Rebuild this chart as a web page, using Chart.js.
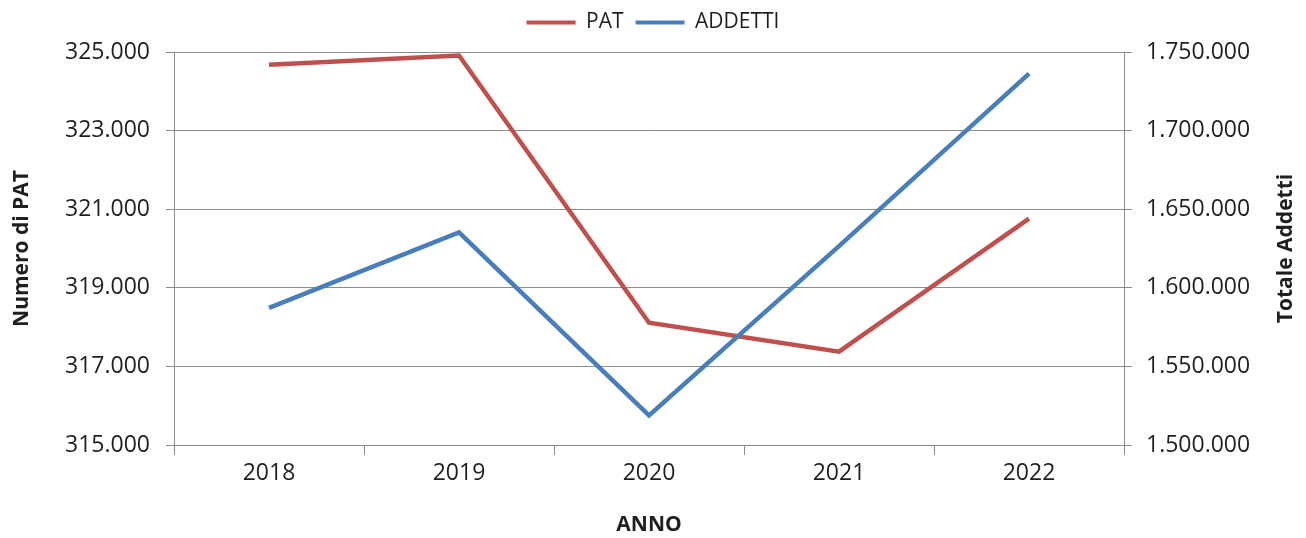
<!DOCTYPE html>
<html>
<head>
<meta charset="utf-8">
<script src="https://cdn.jsdelivr.net/npm/chart.js@4"></script>
<style>
  html, body { margin: 0; padding: 0; background: #fff; }
  #wrap { width: 1306px; height: 538px; }
</style>
</head>
<body>
<div id="wrap"><canvas id="chart" width="1306" height="538"></canvas></div>
<script>
const anni = ['2018', '2019', '2020', '2021', '2022'];
const pat = [324675, 324910, 318110, 317375, 320760];
const addetti = [1587200, 1635300, 1518800, 1626500, 1736200];

const FONT = "'Open Sans', 'Liberation Sans', sans-serif";
const TEXT = '#1f1f1f';
const GRID = '#8c8c8c';

// separatore delle migliaia all'italiana
function puntiMigliaia(v) {
    return String(Math.round(v)).replace(/\B(?=(\d{3})+(?!\d))/g, '.');
}

// titolo dell'asse destro letto dal basso verso l'alto, come nell'originale
const titoloDestro = {
    id: 'titoloDestro',
    afterDraw(chart) {
        const area = chart.chartArea;
        const c = chart.ctx;
        c.save();
        c.translate(chart.width - 20, (area.top + area.bottom) / 2);
        c.rotate(-Math.PI / 2);
        c.font = "bold 21px " + FONT;
        c.fillStyle = TEXT;
        c.textAlign = 'center';
        c.textBaseline = 'middle';
        c.fillText('Totale Addetti', 0, 0);
        c.restore();
    }
};

const ctx = document.getElementById('chart').getContext('2d');
new Chart(ctx, {
    type: 'line',
    data: {
        labels: anni,
        datasets: [{
            label: 'PAT',
            data: pat,
            yAxisID: 'y',
            borderColor: '#C0504D',
            backgroundColor: '#C0504D',
            borderWidth: 4.5,
            pointRadius: 0,
            tension: 0,
            order: 1
        }, {
            label: 'ADDETTI',
            data: addetti,
            yAxisID: 'y1',
            borderColor: '#4A7EBB',
            backgroundColor: '#4A7EBB',
            borderWidth: 4.5,
            pointRadius: 0,
            tension: 0,
            order: 0
        }]
    },
    plugins: [titoloDestro],
    options: {
        responsive: false,
        animation: false,
        layout: { padding: { top: 0, left: 0, right: 0, bottom: 0 } },
        plugins: {
            tooltip: { enabled: false },
            // spazio vuoto tra legenda e grafico
            subtitle: {
                display: true,
                text: '',
                weight: 500,
                font: { size: 1, lineHeight: 1 },
                padding: { top: 8, bottom: 0 }
            },
            legend: {
                position: 'top',
                labels: {
                    font: { family: FONT, size: 21 },
                    color: TEXT,
                    boxWidth: 49,
                    boxHeight: 4,
                    padding: 12,
                    sort: (a, b) => a.datasetIndex - b.datasetIndex,
                    generateLabels: function(chart) {
                        const items = Chart.defaults.plugins.legend.labels.generateLabels(chart);
                        items.forEach(it => { it.lineWidth = 0; it.fillStyle = it.strokeStyle; });
                        return items;
                    }
                }
            }
        },
        scales: {
            x: {
                offset: true,
                grid: {
                    offset: true,
                    drawOnChartArea: false,
                    drawTicks: true,
                    tickLength: 10,
                    color: GRID
                },
                border: { color: GRID, width: 1 },
                ticks: { font: { family: FONT, size: 23 }, color: TEXT, padding: 5 },
                title: {
                    display: true,
                    text: 'ANNO',
                    font: { family: FONT, size: 21, weight: 'bold' },
                    color: TEXT,
                    padding: { top: 11, bottom: 0 }
                },
                afterFit: function(scale) { scale.height = 93; }
            },
            y: {
                position: 'left',
                min: 315000,
                max: 325000,
                grid: { color: GRID, tickLength: 8 },
                border: { color: GRID, width: 1 },
                ticks: {
                    stepSize: 2000,
                    font: { family: FONT, size: 23 },
                    color: TEXT,
                    padding: 16,
                    callback: v => puntiMigliaia(v)
                },
                title: {
                    display: true,
                    text: 'Numero di PAT',
                    font: { family: FONT, size: 21, weight: 'bold' },
                    color: TEXT,
                    padding: { top: 9, bottom: 0 }
                },
                afterFit: function(scale) { scale.width = 174; }
            },
            y1: {
                position: 'right',
                min: 1500000,
                max: 1750000,
                grid: { color: GRID, tickLength: 8, drawOnChartArea: false },
                border: { color: GRID, width: 1 },
                ticks: {
                    stepSize: 50000,
                    font: { family: FONT, size: 23 },
                    color: TEXT,
                    padding: 14,
                    callback: v => puntiMigliaia(v)
                },
                title: { display: false },
                afterFit: function(scale) { scale.width = 182; }
            }
        }
    }
});
</script>
</body>
</html>
